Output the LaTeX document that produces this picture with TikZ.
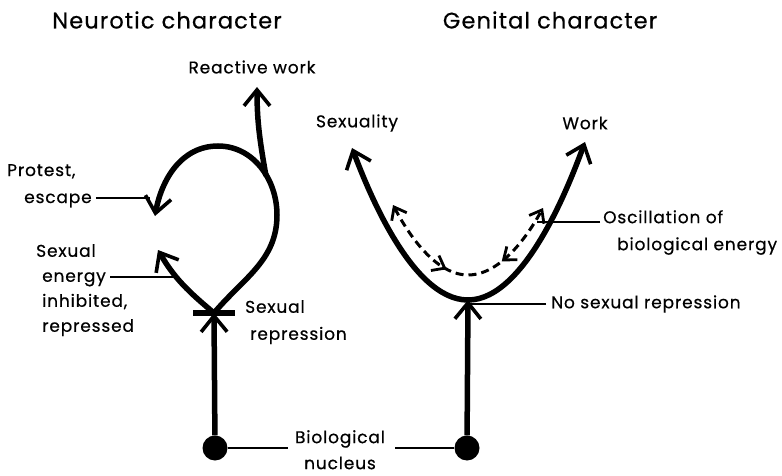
\documentclass[tikz,border=0pt]{standalone}
\usepackage{fontspec}
\setmainfont{Poppins}[FakeBold=0.5, LetterSpace=5]
\usetikzlibrary{arrows.meta, positioning, calc, decorations.markings}

\begin{document}
\begin{tikzpicture}[
    x=1pt, y=1pt,
    flow/.style={line width=5.5pt},
    tipped/.style={-{Straight Barb[length=16pt, width=26pt, line width=3.6pt 0 0]}},
    bothtipped/.style={{Straight Barb[length=16pt, width=26pt, line width=3.6pt 0 0]}-{Straight Barb[length=16pt, width=26pt, line width=3.6pt 0 0]}},
    osc/.style={line width=3pt, dash pattern=on 8pt off 5pt,
        {Straight Barb[length=11pt, width=17pt, line width=2.8pt 0 0]}-{Straight Barb[length=11pt, width=17pt, line width=2.8pt 0 0]}},
    lead/.style={line width=1.3pt},
    nucleus/.style={circle, fill=black, minimum size=25pt, inner sep=0pt},
    lbl/.style={font=\fontsize{17}{27}\selectfont, inner sep=0pt, align=left},
    ttl/.style={font=\fontsize{22.5}{27}\selectfont, inner sep=0pt}
]
\path[use as bounding box, fill=white] (0,0) rectangle (782,-476);

%% Titles
\node[ttl] (neurotic) at (167,-20) {Neurotic character};
\node[ttl] (genital)  at (550,-20) {Genital character};

%% Neurotic character: nucleus, repression bar, loop
\node[nucleus] (nucL) at (215,-448) {};
\node[fill, minimum width=42pt, minimum height=5.5pt, inner sep=0pt] (bar) at (214,-313) {};
\coordinate (energy)  at (158,-250);
\coordinate (loopR)   at (277,-215);
\coordinate (loopT)   at (218,-146);
\coordinate (protest) at (155,-216);
\coordinate (rwbase)  at (266,-176);
\coordinate (rwtip)   at (257,-87);

\draw[flow, tipped] (nucL) -- (bar.center);
\draw[flow, tipped] (bar.center) to[out=140, in=-60] (energy);
\draw[flow, tipped] (bar.center) to[out=50, in=-90] (loopR)
    to[out=90, in=0] (loopT) to[out=180, in=80] (protest);
\draw[flow, tipped] (rwbase) to[out=100, in=-90] (rwtip);

%% Genital character: nucleus, parabola, oscillation
\node[nucleus] (nucR) at (467,-448) {};
\coordinate (bottom)  at (468,-300);
\coordinate (sexTip)  at (352,-148);
\coordinate (workTip) at (585,-142);
\coordinate (oscL)    at (393,-205);
\coordinate (oscB)    at (468,-275);
\coordinate (oscR)    at (543,-208);

\draw[flow, tipped] (nucR) -- (bottom);
\draw[flow, bothtipped] (sexTip) parabola bend (bottom) (workTip);
\draw[osc, postaction={decorate}, decoration={markings,
      mark=at position 0.40 with {\arrow{Straight Barb[length=11pt, width=17pt, line width=2.8pt 0 0]}},
      mark=at position 0.68 with {\arrowreversed{Straight Barb[length=11pt, width=17pt, line width=2.8pt 0 0]}}}]
    (oscL) parabola bend (oscB) (oscR);

%% Labels
\node[lbl] (rwlbl) at (252,-67) {Reactive work};
\node[lbl, anchor=north west] (protlbl) at (7,-164) {Protest,\\\hspace*{17pt}escape};
\node[lbl, anchor=north west, font=\fontsize{17}{25}\selectfont] (energylbl) at (36,-244)
    {Sexual\\\hspace*{6pt}energy\\\hspace*{6pt}inhibited,\\\hspace*{6pt}repressed};
\node[lbl, anchor=north west] (replbl) at (245,-300) {Sexual\\\hspace*{5pt}repression};
\node[lbl, align=center, anchor=north, font=\fontsize{17}{26}\selectfont] (biolbl) at (340,-430) {Biological\\nucleus};
\node[lbl] (sexlbl) at (357,-123) {Sexuality};
\node[lbl] (worklbl) at (585,-123) {Work};
\node[lbl, anchor=north west] (osclbl) at (603,-210) {Oscillation of\\\hspace*{14pt}biological energy};
\node[lbl, anchor=west] (nsrlbl) at (551,-304) {No sexual repression};

%% Leader lines
\coordinate (protline)   at (150,-198);
\coordinate (energyfrom) at (110,-277);
\coordinate (energyline) at (174,-277);
\coordinate (oscline)    at (537,-222);
\draw[lead, shorten <=4pt] (protlbl.east |- protline) -- (protline);
\draw[lead] (energyfrom) -- (energyline);
\draw[lead, shorten >=7pt] (nucL) -- (nucL -| biolbl.west);
\draw[lead, shorten >=10pt] (nucR) -- (nucR -| biolbl.east);
\draw[lead, shorten <=5pt] (nsrlbl.west) -- (nsrlbl.west -| bottom);
\draw[lead, shorten <=3pt] (osclbl.north west |- oscline) -- (oscline);
\end{tikzpicture}
\end{document}
